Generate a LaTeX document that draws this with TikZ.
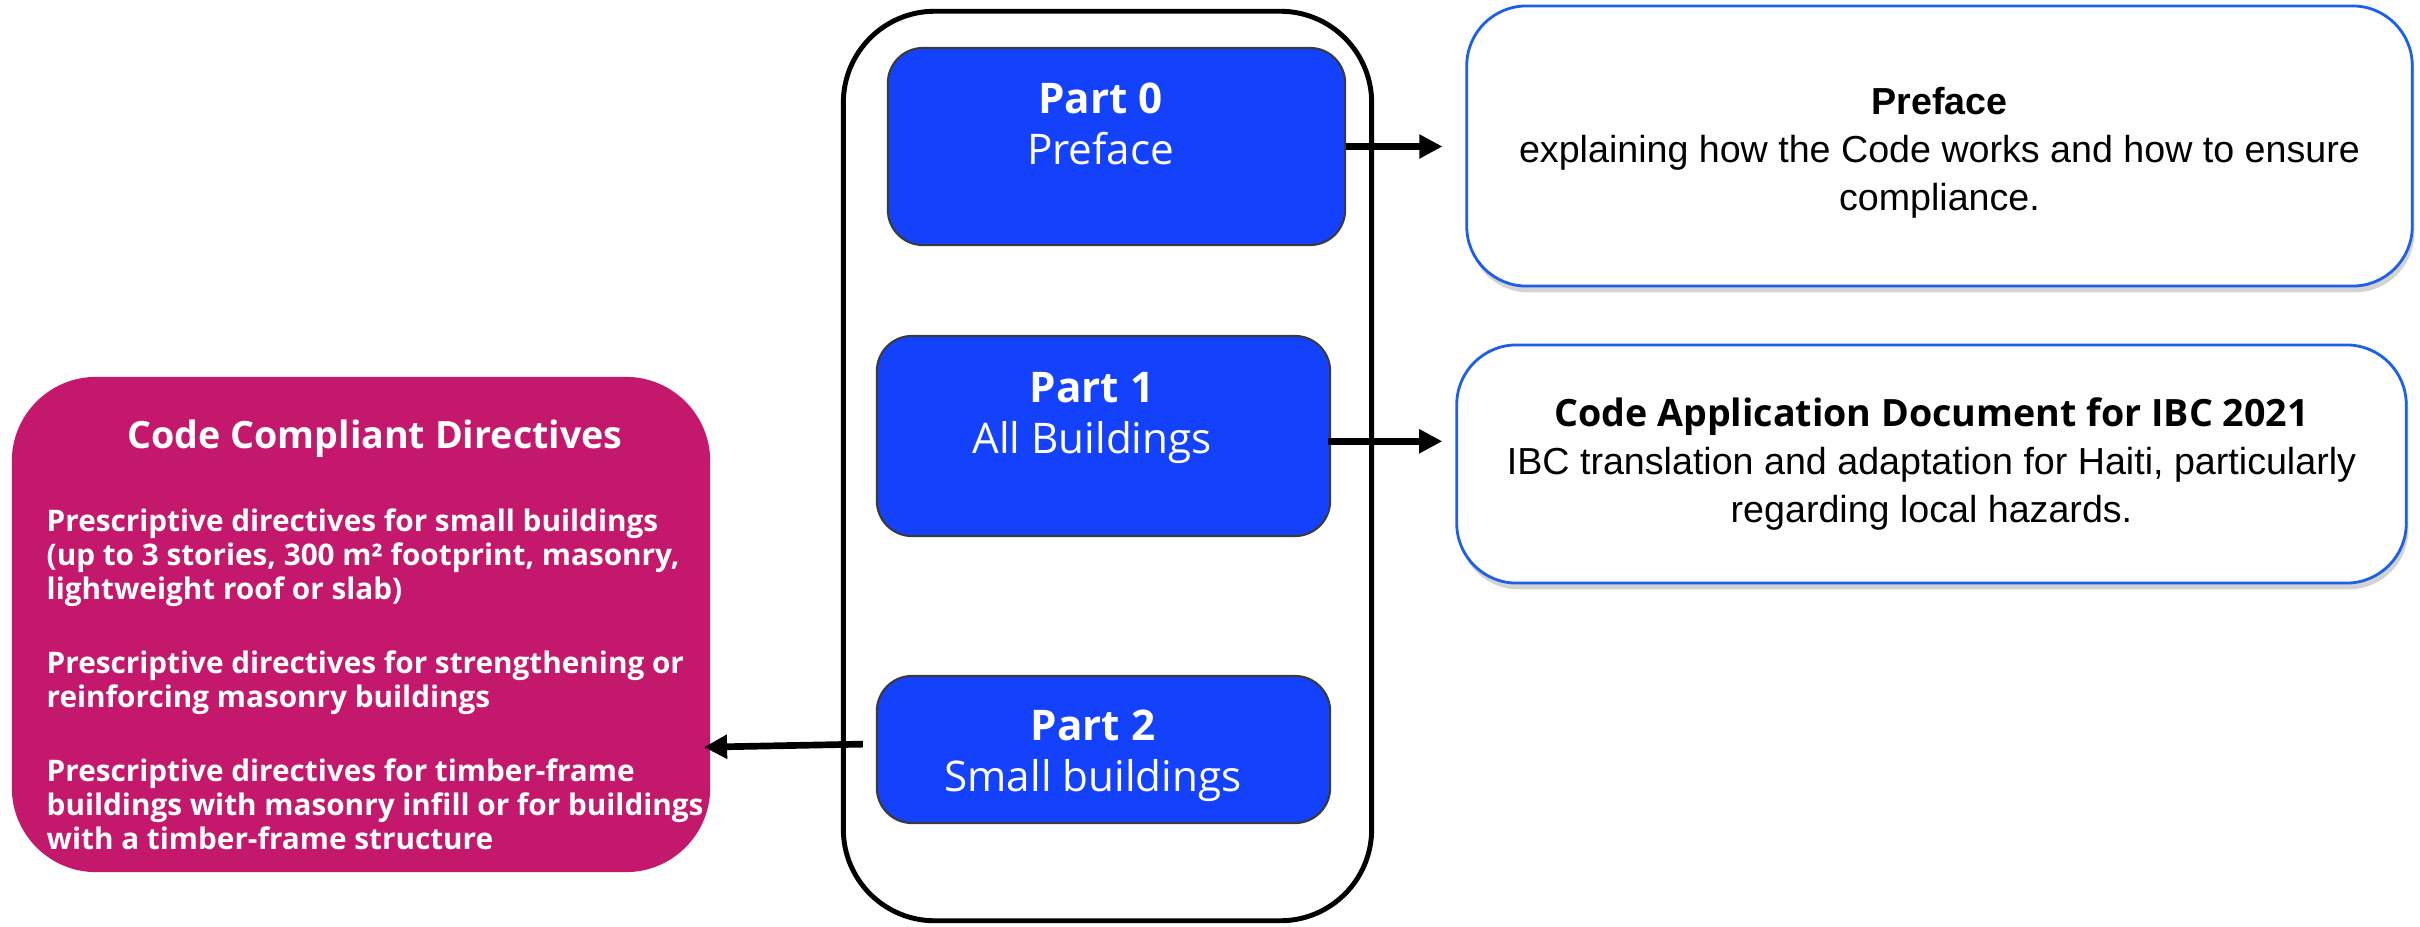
\documentclass[tikz,border=0pt]{standalone}
\usepackage{fontspec}
\usetikzlibrary{positioning,arrows.meta,shadows}
\setmainfont{Open Sans}
\newfontfamily\notofont{Open Sans}
\newfontfamily\arialfont{Liberation Sans}
\newcommand{\Unit}{0.01cm}
\newcommand{\Wire}{1.4pt}
\newcommand{\Shaft}{1.9pt}
\definecolor{partblue}{HTML}{1441FB}
\definecolor{plum}{HTML}{C3186B}
\definecolor{rimblue}{HTML}{1D5FE6}
\definecolor{ink}{HTML}{000000}
\definecolor{edge}{HTML}{3A3A3A}

\begin{document}
\begin{tikzpicture}[x=\Unit,y=-\Unit, line join=round,
  partbox/.style={draw=edge, line width=0.6pt, fill=partblue, text=white,
    rounded corners=10pt, align=center, inner sep=0pt, text height=20pt,
    font=\notofont\fontsize{12}{14.5}\selectfont},
  notebox/.style={draw=rimblue, line width=0.8pt, fill=white,
    rounded corners=17pt, align=center, inner sep=0pt,
    font=\arialfont\fontsize{10.7}{13.6}\selectfont,
    drop shadow={shadow xshift=0.6pt, shadow yshift=-1.8pt, opacity=0.35}},
  link/.style={ink, line width=\Shaft, -{Triangle[length=6.6pt,width=6.5pt]}}]

  \useasboundingbox (0,0) rectangle (2420,927);

  % ---- the code book --------------------------------------------------------
  \node[draw=ink, line width=\Wire, rounded corners=26pt,
        minimum width=5.28cm, minimum height=9.09cm] (book) at (1107.5,466) {};

  % Text sits a little left of centre in every part, as in the original.
  \node[partbox, minimum width=4.57cm, minimum height=1.97cm, text depth=10pt]
    (part0) at (1116.5,146.5) {\textbf{Part 0}\kern9pt\\Preface\kern9pt};
  \node[partbox, minimum width=4.53cm, minimum height=2.00cm, text depth=10.3pt]
    (part1) at (1103.5,436) {\textbf{Part 1}\kern6.5pt\\All Buildings\kern6.5pt};
  \node[partbox, minimum width=4.53cm, minimum height=1.47cm,
        text height=23.6pt, text depth=0pt]
    (part2) at (1103.5,749.5) {\textbf{Part 2}\kern6pt\\Small buildings\kern6pt};

  % ---- what each part holds -------------------------------------------------
  \node[notebox, minimum width=9.45cm, minimum height=2.80cm,
        text height=36.4pt, text depth=0pt] (preface)
    at (1939.5,146) {\textbf{Preface}\\
      explaining how the Code works and how to ensure\\
      compliance.};
  \node[notebox, minimum width=9.49cm, minimum height=2.38cm] (cad)
    at (1931.5,464) {{\notofont\bfseries Code Application Document for IBC 2021}\\
      IBC translation and adaptation for Haiti, particularly\\
      regarding local hazards.};

  % The directives box, its title and its three paragraphs.
  \node[fill=plum, rounded corners=24pt,
        minimum width=6.98cm, minimum height=4.95cm] (ccd) at (361,624.5) {};
  \node[text=white, font=\notofont\bfseries\fontsize{10.7}{12}\selectfont]
    (ccdtitle) at (375,439) {Code Compliant Directives};
  \node[text=white, anchor=north west, inner sep=0pt, align=left,
        font=\notofont\bfseries\fontsize{8.45}{9.65}\selectfont]
    (ccdbody) at (46,508) {%
      Prescriptive directives for small buildings\\
      (up to 3 stories, 300 m² footprint, masonry,\\
      lightweight roof or slab)\\[11.4pt]
      Prescriptive directives for strengthening or\\
      reinforcing masonry buildings\\[11.4pt]
      Prescriptive directives for timber-frame\\
      buildings with masonry infill or for buildings\\
      with a timber-frame structure};

  % ---- arrows ---------------------------------------------------------------
  \draw[link, shorten >=6.5pt] (part0.east) -- (part0.east -| preface.west);
  \draw[link, shorten <=-0.8pt, shorten >=3.7pt]
    ([yshift=-1.5pt]part1.east) -- ([yshift=-1.5pt]part1.east -| cad.west);
  \draw[link, shorten <=3.7pt, shorten >=-2pt]
    ([yshift=1.6pt]part2.west) -- ([yshift=0.7pt]part2.west -| ccd.east);

\end{tikzpicture}
\end{document}
